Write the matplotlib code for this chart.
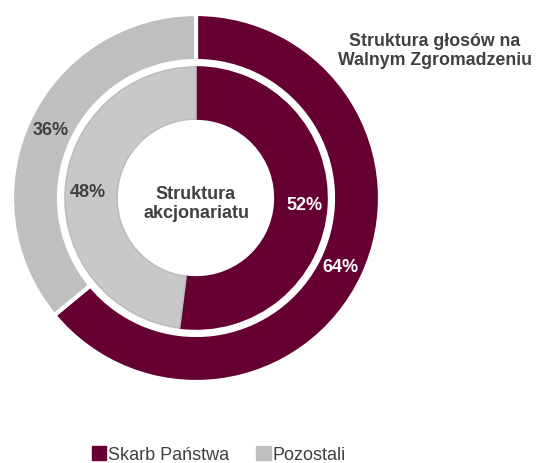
import matplotlib.pyplot as plt

plt.rcParams['font.family'] = ['Liberation Sans', 'DejaVu Sans']

categories = ['Skarb Państwa', 'Pozostali']
votes = [64, 36]          # outer ring: Struktura głosów na Walnym Zgromadzeniu
shares = [52, 48]         # inner ring: Struktura akcjonariatu

maroon = '#660033'
gray_outer = '#BFBFBF'
gray_inner = '#C8C8C8'
dark_text = '#404040'

fig = plt.figure(figsize=(5.38, 4.64), dpi=100)
ax = fig.add_axes([0, 0, 1, 1])

cx, cy = 196, 265

# outer ring
w_out, t_out, p_out = ax.pie(votes, colors=[maroon, gray_outer], startangle=90, counterclock=False,
                             center=(cx, cy), radius=184, autopct='%d%%', pctdistance=0.87,
                             wedgeprops=dict(width=47, edgecolor='white', linewidth=3),
                             frame=True)
# inner ring
w_in, t_in, p_in = ax.pie(shares, colors=[maroon, gray_inner], startangle=90, counterclock=False,
                          center=(cx, cy), radius=131, autopct='%d%%', pctdistance=0.83,
                          wedgeprops=dict(width=52, edgecolor='#BDBDBD', linewidth=1.2),
                          frame=True)
w_in[0].set_edgecolor(maroon)

ax.set_xlim(0, 538)
ax.set_ylim(0, 464)
ax.set_aspect('equal')
ax.axis('off')

for p, c in zip(p_out + p_in, ['white', dark_text, 'white', dark_text]):
    p.set_color(c)
    p.set_fontsize(13)
    p.set_fontweight('bold')

ax.text(cx, cy - 5, 'Struktura\nakcjonariatu', ha='center', va='center', fontsize=13,
        fontweight='bold', color=dark_text, linespacing=1.1)
ax.text(435, 413, 'Struktura głosów na\nWalnym Zgromadzeniu', ha='center', va='center',
        fontsize=12.8, fontweight='bold', color=dark_text, linespacing=1.15)

handles = [plt.Rectangle((0, 0), 1, 1, color=maroon), plt.Rectangle((0, 0), 1, 1, color=gray_outer)]
leg = fig.legend(handles, categories, loc='lower center', bbox_to_anchor=(219 / 538, -0.035), ncol=2,
                 frameon=False, handlelength=0.8, handleheight=0.8, handletextpad=0.1,
                 columnspacing=1.5, fontsize=13)
for t in leg.get_texts():
    t.set_color(dark_text)

fig.savefig('out.png', dpi=100)
